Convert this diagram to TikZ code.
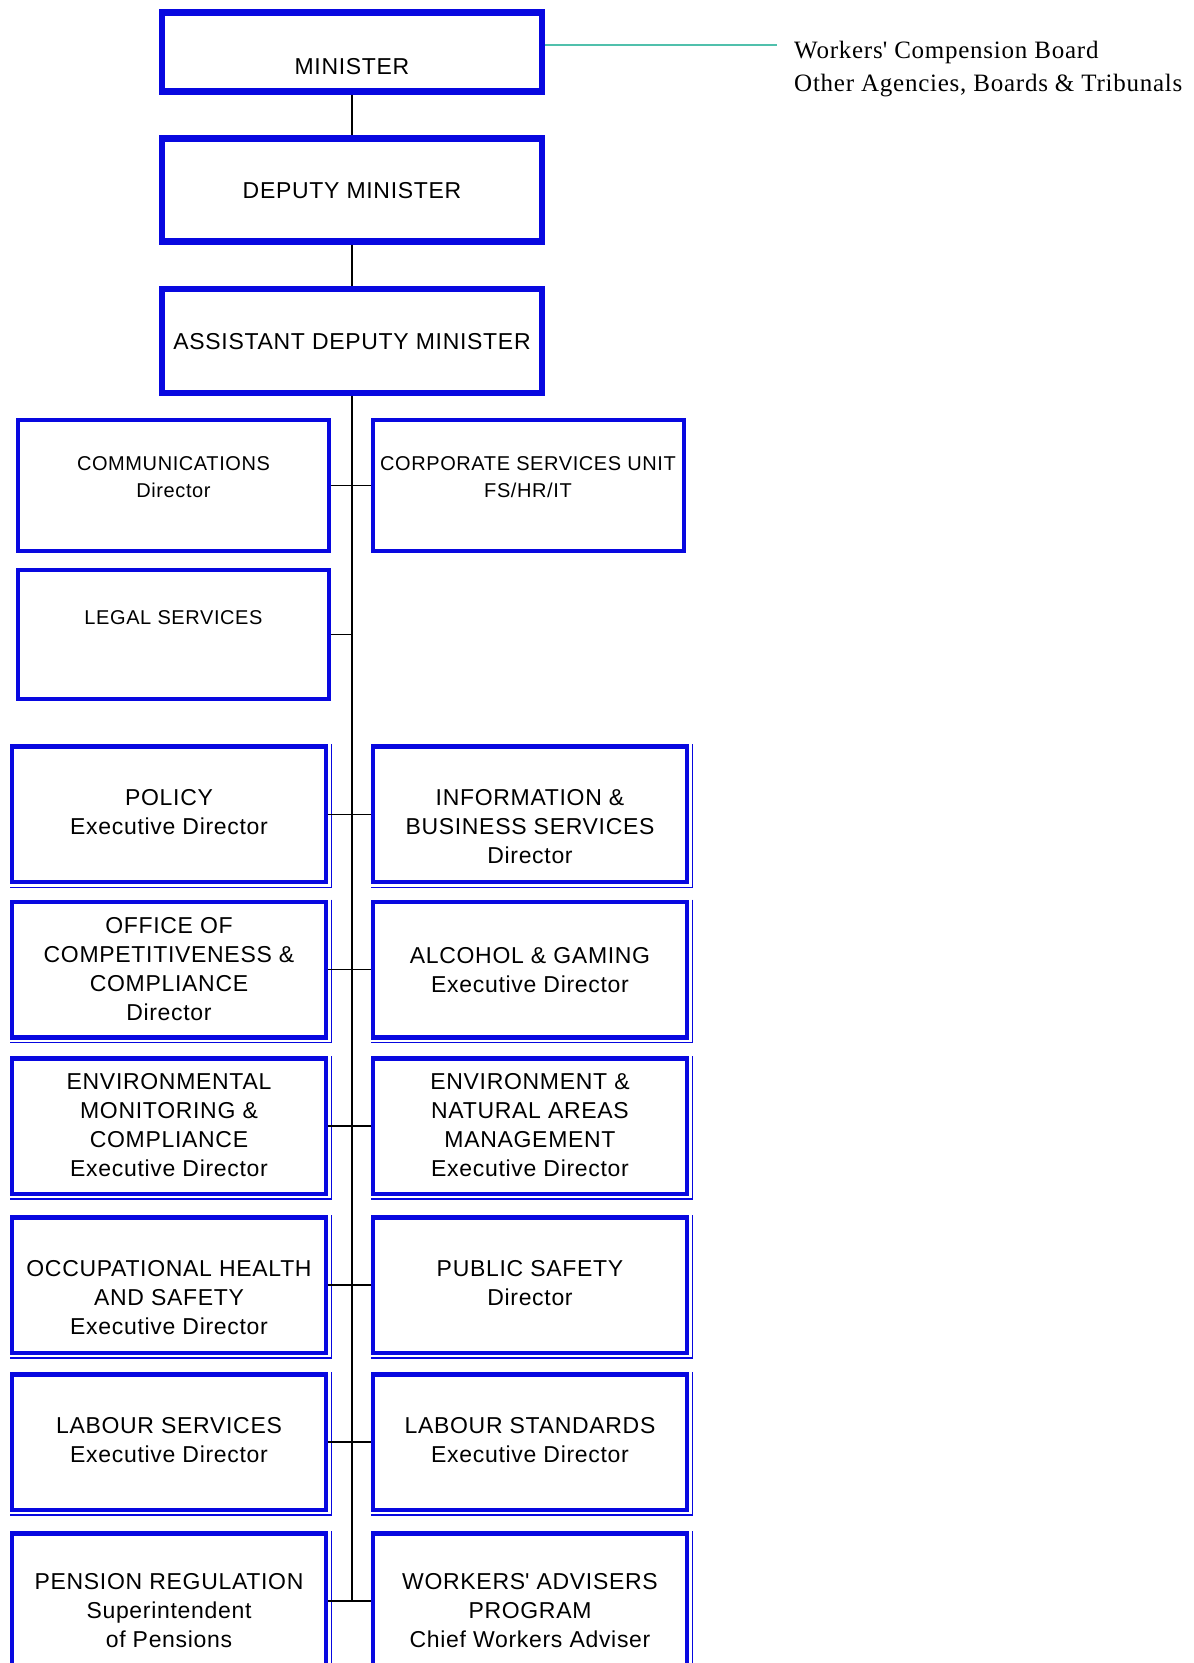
\documentclass[tikz,border=0pt]{standalone}
\usepackage{fontspec}
\setmainfont{Liberation Sans}[LetterSpace=3]
\newfontfamily\boardfont{Liberation Serif}[LetterSpace=3]
\definecolor{boxblue}{RGB}{8,8,224}
\definecolor{boardteal}{RGB}{80,192,172}

\begin{document}
\begin{tikzpicture}[x=1pt,y=-1pt,
    unit/.style={draw=boxblue, inner sep=0pt, align=center, font=\fontsize{23}{29}\selectfont},
    topbox/.style={unit, line width=6.5pt, minimum width=380pt},
    sidebox/.style={unit, line width=4pt, minimum width=311pt, font=\fontsize{20}{26.5}\selectfont},
    lowbox/.style={unit, line width=4.5pt, minimum width=314pt, minimum height=135.5pt},
    shadow/.style={draw=boxblue, line width=1.3pt},
    link/.style={draw=black, line width=1.3pt}]
        \fill[white] (0,0) rectangle (1194,1663);
        \useasboundingbox (0,0) rectangle (1194,1663);

        % top of the chart
        \node[topbox, minimum height=79pt, text height=61.5pt, text depth=17.5pt] (min) at (352,52) {MINISTER};
        \node[topbox, minimum height=103pt, text height=59.5pt, text depth=43.5pt] (dep) at (352,190) {DEPUTY MINISTER};
        \node[topbox, minimum height=104pt, text height=60pt, text depth=44pt] (adm) at (352,341) {ASSISTANT DEPUTY MINISTER};

        \coordinate (boardEnd) at (777,44.5);
        \node[anchor=base west, inner sep=0pt, align=left, font=\boardfont\fontsize{25}{33}\selectfont] (boards) at (794,91) {Workers\textquotesingle{} Compension Board\\Other Agencies, Boards \& Tribunals};

        % units next to the ADM
        \node[sidebox, minimum height=130.5pt, text height=77pt, text depth=53.5pt] (comm) at (173.5,485.3) {COMMUNICATIONS\\Director};
        \node[sidebox, minimum height=130.5pt, text height=77pt, text depth=53.5pt] (corp) at (528,485.3) {CORPORATE SERVICES UNIT\\FS/HR/IT};
        \node[sidebox, minimum height=128.6pt, text height=54pt, text depth=74.6pt] (legal) at (173.5,634.7) {LEGAL SERVICES};

        % divisions
        \node[lowbox, text height=88pt, text depth=47.5pt] (policy) at (169,814.4) {POLICY\\Executive Director};
        \node[lowbox, text height=117pt, text depth=18.5pt] (info) at (530,814.4) {INFORMATION \&\\BUSINESS SERVICES\\Director};
        \node[lowbox, text height=119pt, text depth=16.5pt] (office) at (169,969.5) {OFFICE OF\\COMPETITIVENESS \&\\COMPLIANCE\\Director};
        \node[lowbox, text height=91pt, text depth=44.5pt] (alcohol) at (530,969.5) {ALCOHOL \& GAMING\\Executive Director};
        \node[lowbox, text height=118.5pt, text depth=17pt] (envmon) at (169,1126) {ENVIRONMENTAL\\MONITORING \&\\COMPLIANCE\\Executive Director};
        \node[lowbox, text height=118.5pt, text depth=17pt] (envnat) at (530,1126) {ENVIRONMENT \&\\NATURAL AREAS\\MANAGEMENT\\Executive Director};
        \node[lowbox, text height=117pt, text depth=18.5pt] (ohs) at (169,1285) {OCCUPATIONAL HEALTH\\AND SAFETY\\Executive Director};
        \node[lowbox, text height=88pt, text depth=47.5pt] (pubsafe) at (530,1285) {PUBLIC SAFETY\\Director};
        \node[lowbox, text height=88pt, text depth=47.5pt] (labserv) at (169,1442) {LABOUR SERVICES\\Executive Director};
        \node[lowbox, text height=88pt, text depth=47.5pt] (labstd) at (530,1442) {LABOUR STANDARDS\\Executive Director};
        \node[lowbox, text height=114pt, text depth=21.5pt] (pension) at (169,1601) {PENSION REGULATION\\Superintendent\\of Pensions};
        \node[lowbox, text height=114pt, text depth=21.5pt] (wap) at (530,1601) {WORKERS\textquotesingle{} ADVISERS\\PROGRAM\\Chief Workers Adviser};

        % thin outer edge of the division boxes
        \draw[shadow] ([xshift=3pt]policy.north east) -- ([xshift=3pt,yshift=-3pt]policy.south east) -- ([yshift=-3pt]policy.south west);
        \draw[shadow] ([xshift=3pt]info.north east) -- ([xshift=3pt,yshift=-3pt]info.south east) -- ([yshift=-3pt]info.south west);
        \draw[shadow] ([xshift=3pt]office.north east) -- ([xshift=3pt,yshift=-3pt]office.south east) -- ([yshift=-3pt]office.south west);
        \draw[shadow] ([xshift=3pt]alcohol.north east) -- ([xshift=3pt,yshift=-3pt]alcohol.south east) -- ([yshift=-3pt]alcohol.south west);
        \draw[shadow] ([xshift=3pt]envmon.north east) -- ([xshift=3pt,yshift=-3pt]envmon.south east) -- ([yshift=-3pt]envmon.south west);
        \draw[shadow] ([xshift=3pt]envnat.north east) -- ([xshift=3pt,yshift=-3pt]envnat.south east) -- ([yshift=-3pt]envnat.south west);
        \draw[shadow] ([xshift=3pt]ohs.north east) -- ([xshift=3pt,yshift=-3pt]ohs.south east) -- ([yshift=-3pt]ohs.south west);
        \draw[shadow] ([xshift=3pt]pubsafe.north east) -- ([xshift=3pt,yshift=-3pt]pubsafe.south east) -- ([yshift=-3pt]pubsafe.south west);
        \draw[shadow] ([xshift=3pt]labserv.north east) -- ([xshift=3pt,yshift=-3pt]labserv.south east) -- ([yshift=-3pt]labserv.south west);
        \draw[shadow] ([xshift=3pt]labstd.north east) -- ([xshift=3pt,yshift=-3pt]labstd.south east) -- ([yshift=-3pt]labstd.south west);
        \draw[shadow] ([xshift=3pt]pension.north east) -- ([xshift=3pt,yshift=-3pt]pension.south east) -- ([yshift=-3pt]pension.south west);
        \draw[shadow] ([xshift=3pt]wap.north east) -- ([xshift=3pt,yshift=-3pt]wap.south east) -- ([yshift=-3pt]wap.south west);

        % reporting lines
        \coordinate (spineEnd) at (352,1601);
        \draw[draw=boardteal, line width=2pt] (min.east |- boardEnd) -- (boardEnd);
        \draw[link] (min.south) -- (dep.north);
        \draw[link] (dep.south) -- (adm.north);
        \draw[link] (adm.south) -- (spineEnd);
        \draw[link] (comm.east) -- (corp.west);
        \draw[link] (legal.east) -- (legal.east -| spineEnd);
        \draw[link] (policy.east) -- (info.west);
        \draw[link] (office.east) -- (alcohol.west);
        \draw[link] (envmon.east) -- (envnat.west);
        \draw[link] (ohs.east) -- (pubsafe.west);
        \draw[link] (labserv.east) -- (labstd.west);
        \draw[link] (pension.east) -- (wap.west);
    \end{tikzpicture}
\end{document}
